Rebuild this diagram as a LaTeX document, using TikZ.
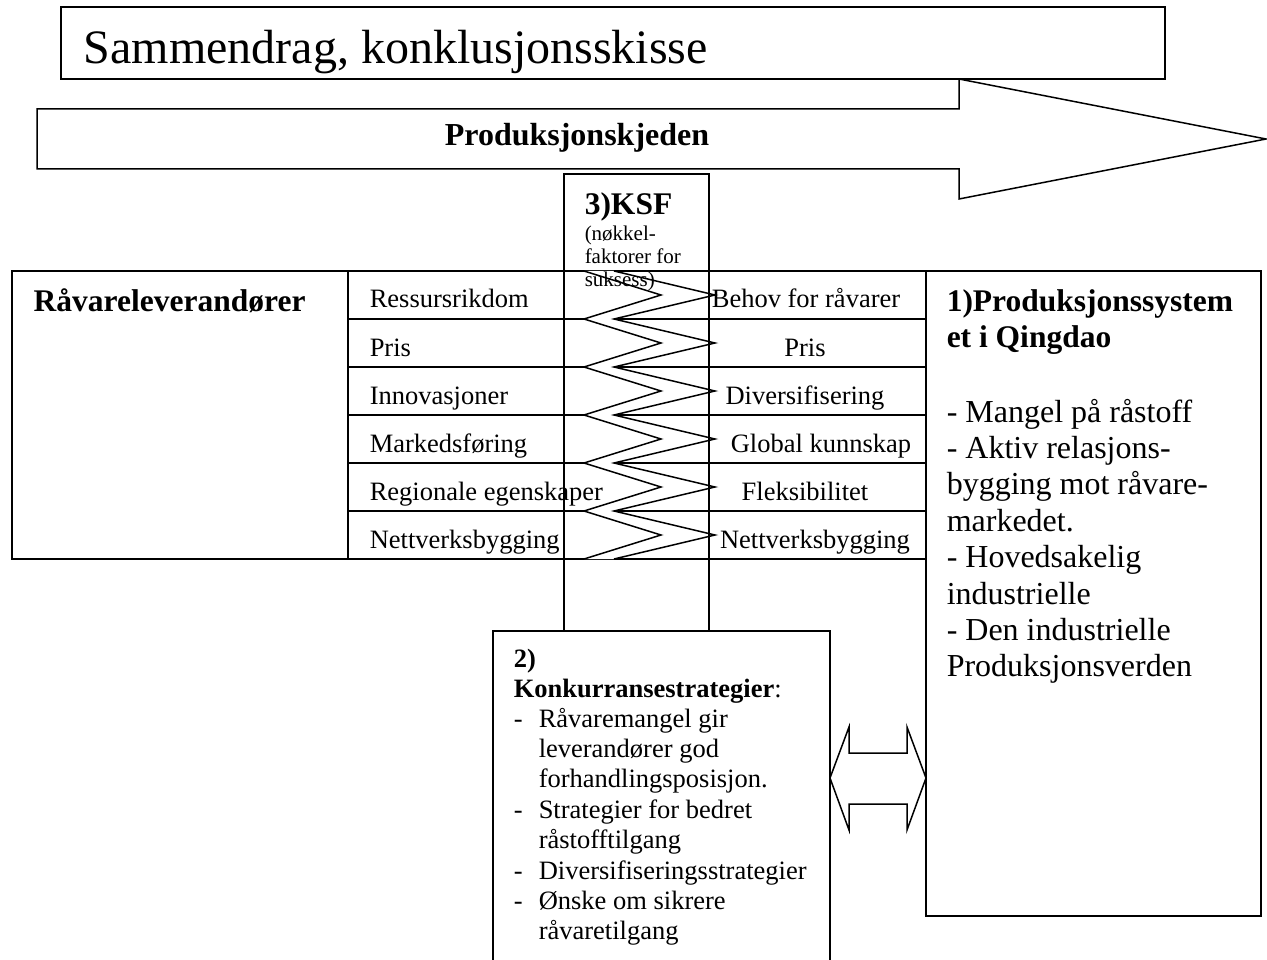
\documentclass[tikz,border=0pt]{standalone}
\usepackage{fontspec}
\setmainfont{Liberation Serif}
\usetikzlibrary{calc}

\begin{document}
\begin{tikzpicture}[x=1pt, y=-1pt, line width=1.5pt,
  box/.style={draw, anchor=north west, inner sep=0pt, outer sep=0pt},
  head/.style={anchor=base west, inner sep=0pt, font=\fontsize{31.5}{36}\selectfont\bfseries},
  cell/.style={anchor=base west, inner sep=0pt, font=\fontsize{26.5}{30}\selectfont},
  cellc/.style={cell, anchor=base},
  small/.style={anchor=base west, inner sep=0pt, font=\fontsize{21}{23}\selectfont},
  big/.style={anchor=base west, inner sep=0pt, font=\fontsize{32}{37}\selectfont}]
\useasboundingbox (0,0) rectangle (1267,960);

% Production chain arrow and heading
\draw (37,109) -- (959,109) -- (959,79) -- (1266,139) -- (959,199) -- (959,169) -- (37,169) -- cycle;
\node[head, anchor=base, font=\fontsize{32}{36}\selectfont\bfseries] (kjede) at (577,146) {Produksjonskjeden};
\node[box, minimum width=1104pt, minimum height=72pt] (tittel) at (61,7) {};
\node[anchor=base west, inner sep=0pt, font=\fontsize{48}{52}\selectfont] (tittelTekst) at (83,64) {Sammendrag, konklusjonsskisse};

% Table with suppliers and the production system
\node[box, minimum width=336pt, minimum height=288pt] (rav) at (12,271) {};
\node[box, minimum width=335pt, minimum height=645pt] (prod) at (926,271) {};
\foreach \y in {271,319,...,559}
  \draw (348,\y) -- (926,\y);

% Zigzag band through the KSF column
\fill[white] (584,271) foreach \i in {0,...,5} { -- (661,{295+48*\i}) -- (584,{319+48*\i}) }
  -- (614,559) foreach \i in {5,4,...,0} { -- (715,{295+48*\i}) -- (614,{271+48*\i}) } -- cycle;
\draw (584,271) foreach \i in {0,...,5} { -- (661,{295+48*\i}) -- (584,{319+48*\i}) };
\draw (614,271) foreach \i in {0,...,5} { -- (715,{295+48*\i}) -- (614,{319+48*\i}) };

\node[box, minimum width=145pt, minimum height=457pt] (ksf) at (564,174) {};
\node[head] (ksfTittel) at (584,215) {3)KSF};
\node[small] (ksf1) at (584,241) {(nøkkel-};
\node[small] (ksf2) at (584,264) {faktorer for};
\node[small] (ksf3) at (584,287) {suksess)};

\node[head] (ravTittel) at (33,312) {Råvareleverandører};
\foreach \t [count=\i from 0] in {Ressursrikdom, Pris, Innovasjoner, Markedsføring, Regionale egenskaper, Nettverksbygging}
  \node[cell] (v\i) at (369,{308+48*\i}) {\t};
\foreach \t/\x [count=\i from 0] in {Behov for råvarer/806, Pris/805, Diversifisering/805, Global kunnskap/821, Fleksibilitet/805, Nettverksbygging/815}
  \node[cellc] (h\i) at (\x,{308+48*\i}) {\t};

\node[head] (prodTittel1) at (946,312) {1)Produksjonssystem};
\node[head] (prodTittel2) at (946,347) {et i Qingdao};
\foreach \t [count=\i from 0] in {- Mangel på råstoff, - Aktiv relasjons-, bygging mot råvare-, markedet., - Hovedsakelig, industrielle, - Den industrielle, Produksjonsverden}
  \node[big] (p\i) at (946,{422+36.4*\i}) {\t};

% Competition strategies
\node[box, minimum width=337pt, minimum height=340pt] (konk) at (493,631) {};
\node[cell, font=\fontsize{26.5}{30}\selectfont\bfseries] (konkNr) at (513,667) {2)};
\node[cell] (konkTittel) at (513,697) {\textbf{Konkurransestrategier}:};
\foreach \t [count=\i from 0] in {Råvaremangel gir, leverandører god, forhandlingsposisjon., Strategier for bedret, råstofftilgang, Diversifiseringsstrategier, Ønske om sikrere, råvaretilgang}
  \node[cell] (k\i) at (538,{727+30.4*\i}) {\t};
\foreach \i in {0,3,5,6}
  \node[cell] (d\i) at (513,{727+30.4*\i}) {-};

% Double arrow between strategies and production system
\coordinate (midt) at (0,778);
\coordinate (pl) at (konk.east |- midt);
\coordinate (pr) at (prod.west |- midt);
\draw (pl) -- ++(19,-51) -- ++(0,26) -- ($(pr)+(-19,-25)$) -- ++(0,-26) -- (pr)
  -- ++(-19,52) -- ++(0,-26) -- ($(pl)+(19,26)$) -- ++(0,26) -- cycle;
\end{tikzpicture}
\end{document}
